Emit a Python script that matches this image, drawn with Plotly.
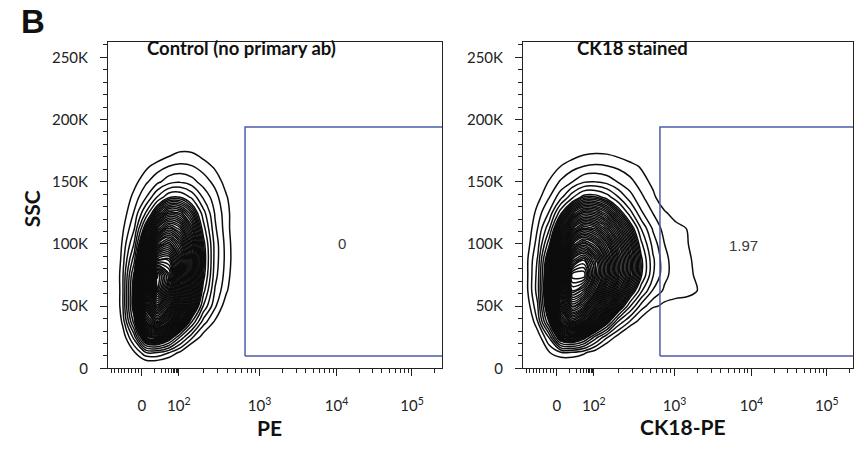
import numpy as np
import plotly.graph_objects as go

# ---------------- data ----------------
PANEL_TITLES = ["Control (no primary ab)", "CK18 stained"]
X_TITLES = ["PE", "CK18-PE"]
Y_TITLE = "SSC"
PANEL_LETTER = "B"

PE_TICK_VALUES = [0, 100, 1000, 10000, 100000]
PE_TICK_LABELS = ["0", "10<sup>2</sup>", "10<sup>3</sup>", "10<sup>4</sup>", "10<sup>5</sup>"]
SSC_TICK_VALUES = [0, 50000, 100000, 150000, 200000, 250000]
SSC_TICK_LABELS = ["0", "50K", "100K", "150K", "200K", "250K"]
SSC_MAX = 262144

GATE_PE = [660, 262144]
GATE_SSC = [10000, 194000]
GATE_PERCENT = ["0", "1.97"]

# contour density grid (ring count), x in biexponential display units, y in SSC
SSC_GRID = [0, 12500, 25000, 37500, 50000, 62500, 75000, 87500, 100000,
            112500, 125000, 137500, 150000, 162500, 175000, 187500]

PE_GRID_CONTROL = [-0.4, -0.25, -0.1, 0.05, 0.2, 0.35, 0.5, 0.65, 0.8, 0.95, 1.1, 1.25]
DENSITY_CONTROL = [
    [-2, -2, -2, -1, -1, -1.3, -2, -2, -2, -2, -2, -2],
    [-2, -2, 0.79, 2.8, 2.9, 2.0, 0.68, -1, -2, -2, -2, -2],
    [-2, 0.15, 3.4, 9.8, 10.8, 8.4, 4.8, 2.2, 0.4, -1.3, -2, -2],
    [-2, 1.3, 6.5, 15.6, 17.8, 15.3, 11.0, 6.0, 2.5, 0.85, -1, -2],
    [-1.5, 1.8, 8.1, 17.9, 21.9, 19.0, 14.5, 9.8, 4.9, 2.2, 0.28, -1.3],
    [-1.5, 1.8, 8.0, 18.4, 25.0, 21.6, 16.7, 11.7, 6.4, 2.9, 1.14, -0.4],
    [-1.3, 1.8, 7.35, 17.2, 25.5, 22.8, 17.8, 12.8, 7.45, 3.4, 1.45, -0.1],
    [-1.4, 1.5, 5.6, 14.3, 20.9, 21.3, 17.6, 13.0, 7.8, 3.6, 1.6, 0.0],
    [-1.3, 1.2, 4.1, 11.2, 16.7, 18.2, 16.0, 12.2, 7.45, 3.6, 1.55, 0.0],
    [-1.5, 0.8, 2.9, 8.0, 12.6, 14.65, 13.5, 10.5, 6.45, 3.2, 1.4, -0.1],
    [-1.7, 0.35, 2.1, 5.05, 8.7, 10.9, 10.5, 8.5, 5.4, 2.9, 1.35, 0.0],
    [-1.9, -0.1, 1.4, 2.9, 5.1, 6.9, 7.0, 5.8, 3.85, 2.4, 1.1, -0.15],
    [-2, -0.7, 0.57, 1.8, 2.7, 3.6, 3.9, 3.4, 2.5, 1.7, 0.5, -0.7],
    [-2, -1.4, -0.3, 0.7, 1.5, 2.0, 2.2, 2.05, 1.55, 0.8, -0.3, -1.4],
    [-2, -2, -1.7, -1, -0.3, 0.4, 0.9, 0.85, 0.3, -0.1, -1, -1.6],
    [-2, -2, -2, -2, -2, -1.5, -1, -1, -1.5, -2, -2, -2],
]

PE_GRID_CK18 = [-0.55, -0.4, -0.25, -0.1, 0.05, 0.2, 0.35, 0.5, 0.65, 0.8, 0.95,
                1.1, 1.25, 1.4, 1.55, 1.7, 1.85, 2.0]
DENSITY_CK18 = [
    [-2, -2, -2, -1.5, -0.8, -0.8, -1, -1.6, -2, -2, -2, -2, -2, -2, -2, -2, -2, -2],
    [-2, -2, -0.5, 0.9, 1.73, 1.73, 1.2, 0.3, -0.9, -2, -2, -2, -2, -2, -2, -2, -2, -2],
    [-2, -2, 0.2, 3.1, 8.8, 9.85, 7.8, 4.5, 2.15, 0.4, -1.3, -2, -2, -2, -2, -2, -2, -2],
    [-2, -1, 1.98, 7.2, 14.7, 17.0, 15.3, 12.0, 7.9, 3.85, 1.9, 0.34, -1.1, -2, -2, -2, -2, -2],
    [-2, 0.08, 2.85, 9.45, 17.3, 21.0, 19.6, 16.6, 12.9, 8.8, 5.1, 2.5, 1.23, 0.7, 0.6, 0.2, -1, -2],
    [-1.9, 0.57, 3.5, 10.2, 18.2, 23.8, 22.8, 19.9, 16.0, 12.2, 8.6, 5.2, 2.9, 1.8, 1.4, 1.5, 0.9, -0.5],
    [-1.8, 0.58, 3.4, 9.8, 17.9, 25.3, 25.4, 21.8, 18.2, 14.4, 10.9, 7.1, 4.1, 2.3, 1.45, 1.4, 0.6, -1],
    [-1.6, 0.61, 3.1, 8.85, 16.2, 22.3, 23.7, 21.3, 18.0, 14.4, 11.0, 7.2, 4.2, 2.3, 1.45, 1.3, 0.4, -1.2],
    [-1.8, 0.27, 2.5, 6.7, 13.2, 18.1, 19.9, 18.6, 16.2, 13.05, 9.85, 6.2, 3.6, 2.0, 1.45, 1.1, -0.5, -2],
    [-1.9, 0.0, 2.0, 4.8, 10.1, 14.1, 15.9, 15.25, 13.5, 10.9, 8.05, 4.9, 2.83, 1.6, 1.35, 0.95, -0.8, -2],
    [-2, -0.34, 1.43, 3.1, 6.7, 10.0, 11.8, 11.5, 10.2, 7.95, 5.45, 3.15, 1.96, 1.15, 0.5, -1.5, -2, -2],
    [-2, -0.97, 0.62, 1.96, 3.66, 5.8, 7.5, 7.55, 6.6, 5.05, 3.45, 2.2, 1.27, 0.16, -0.9, -2, -2, -2],
    [-2, -1.4, -0.02, 1.1, 2.15, 2.96, 3.85, 4.02, 3.65, 2.9, 2.3, 1.5, 0.7, -0.28, -1.3, -2, -2, -2],
    [-2, -1.9, -0.8, 0.14, 1.0, 1.6, 2.0, 2.15, 2.04, 1.78, 1.4, 0.85, 0.25, -0.9, -1.8, -2, -2, -2],
    [-2, -2, -2, -1.5, -0.6, 0.2, 0.6, 0.75, 0.7, 0.4, -0.1, -0.8, -1.4, -2, -2, -2, -2, -2],
    [-2, -2, -2, -2, -2, -2, -1.5, -1.5, -1.5, -2, -2, -2, -2, -2, -2, -2, -2, -2],
]


# ---------------- biexponential display transform ----------------
def biex(v):
    v = np.asarray(v, dtype=float)
    hi = np.interp(np.log10(np.maximum(v, 100.0)), [2, 3, 4, 5, 6], [0.48, 1.53, 2.53, 3.51, 4.49])
    mid = 0.1432 * np.arcsinh(np.maximum(v, 0.0) / 7.0)
    lo = v * 0.00442
    return np.where(v >= 100, hi, np.where(v >= 0, mid, lo))


minor_pe = [-10 * k for k in range(1, 10)] + [10 * k for k in range(1, 10)]
for e in range(2, 6):
    for k in range(2, 10):
        if k * 10 ** e <= SSC_MAX:
            minor_pe.append(k * 10 ** e)
minor_pos = [float(p) for p in biex(minor_pe)]
major_pos = [float(p) for p in biex(PE_TICK_VALUES)]

FONT = "Lato"
INK = "#222222"
GATE_COLOR = "#4a5eaa"

W, H = 855, 451
Y_DOM = [(H - 375) / H, (H - 43) / H]
X_DOMS = [[108 / W, 442 / W], [523 / W, 853 / W]]
X_RANGES = [[-0.44, 3.90], [-0.44, 3.85]]

# outer rings at unit spacing, inner rings packed more densely
LEVEL_SETS = [dict(start=1, end=7, size=1), dict(start=7.4, end=27, size=0.4)]

fig = go.Figure()

panels = [(PE_GRID_CONTROL, DENSITY_CONTROL), (PE_GRID_CK18, DENSITY_CK18)]
for i, (xg, zg) in enumerate(panels):
    xa = "x" if i == 0 else "x2"
    ya = "y" if i == 0 else "y2"
    for lv in LEVEL_SETS:
        fig.add_trace(go.Contour(
            x=xg, y=SSC_GRID, z=zg,
            contours=dict(lv, coloring="none"),
            line=dict(color="#0d0d0d", width=1.5, smoothing=1.0),
            showscale=False, hoverinfo="skip",
            xaxis=xa, yaxis=ya,
        ))
    gx = biex(GATE_PE)
    fig.add_trace(go.Scatter(
        x=[gx[0], gx[1], gx[1], gx[0], gx[0]],
        y=[GATE_SSC[0], GATE_SSC[0], GATE_SSC[1], GATE_SSC[1], GATE_SSC[0]],
        mode="lines", line=dict(color=GATE_COLOR, width=1.5),
        hoverinfo="skip", showlegend=False, xaxis=xa, yaxis=ya,
    ))

axis_common = dict(
    showgrid=False, zeroline=False, showline=True, linecolor=INK, linewidth=1,
    mirror=True, ticks="outside", tickcolor=INK, tickwidth=1,
)

layout = dict(
    width=W, height=H, margin=dict(l=0, r=0, t=0, b=0),
    paper_bgcolor="white", plot_bgcolor="white", showlegend=False,
    font=dict(family=FONT, color=INK),
)
for i in range(2):
    sx = "" if i == 0 else "2"
    layout["xaxis" + sx] = dict(
        axis_common, domain=X_DOMS[i], range=X_RANGES[i], anchor="y" + sx,
        tickmode="array", tickvals=major_pos, ticktext=PE_TICK_LABELS, ticklen=7,
        tickfont=dict(family=FONT, size=15, color=INK), ticklabelstandoff=17,
        minor=dict(tickmode="array", tickvals=minor_pos, ticklen=4, ticks="outside",
                   tickcolor=INK, tickwidth=1, showgrid=False),
    )
    layout["yaxis" + sx] = dict(
        axis_common, domain=Y_DOM, range=[0, SSC_MAX], anchor="x" + sx,
        tickmode="array", tickvals=SSC_TICK_VALUES, ticktext=SSC_TICK_LABELS, ticklen=7,
        tickfont=dict(family=FONT, size=15, color=INK), ticklabelstandoff=9,
        minor=dict(dtick=10000, tick0=0, ticklen=4, ticks="outside",
                   tickcolor=INK, tickwidth=1, showgrid=False),
    )
fig.update_layout(**layout)


def px(xp, yp):
    return dict(x=xp / W, y=1 - yp / H, xref="paper", yref="paper",
                xanchor="center", yanchor="middle", showarrow=False)


anns = [
    dict(px(33, 22), text="<b>%s</b>" % PANEL_LETTER,
         font=dict(family="Liberation Sans", size=33, color="#111")),
    dict(px(242, 49), text="<b>%s</b>" % PANEL_TITLES[0], font=dict(family=FONT, size=18.5, color="#111")),
    dict(px(632, 49), text="<b>%s</b>" % PANEL_TITLES[1], font=dict(family=FONT, size=18.5, color="#111")),
    dict(px(269, 435), text="<b>%s</b>" % X_TITLES[0], font=dict(family=FONT, size=21, color="#111")),
    dict(px(683, 434), text="<b>%s</b>" % X_TITLES[1], font=dict(family=FONT, size=21, color="#111")),
    dict(px(31, 213), text="<b>%s</b>" % Y_TITLE, textangle=-90, font=dict(family=FONT, size=21, color="#111")),
    dict(px(342, 248), text=GATE_PERCENT[0], font=dict(family="Liberation Sans", size=15, color="#3a3a3a")),
    dict(px(743, 250), text=GATE_PERCENT[1], font=dict(family="Liberation Sans", size=15, color="#3a3a3a")),
]
fig.update_layout(annotations=anns)

fig.write_html("out.html", config={"displayModeBar": False},
               post_script="document.body.style.margin='0px';")
